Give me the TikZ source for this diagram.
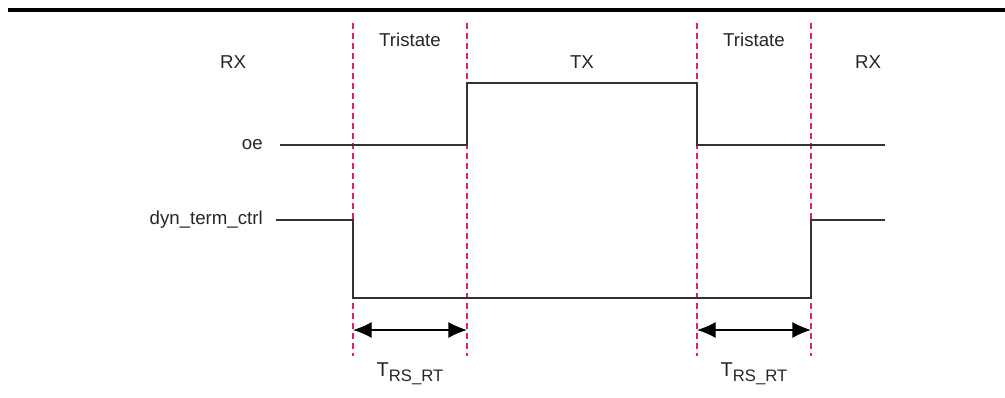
\documentclass[tikz,border=0pt]{standalone}
\usepackage{fontspec}
\setmainfont{Liberation Sans}
\usetikzlibrary{arrows.meta}
\definecolor{markred}{RGB}{226,36,90}
\newcommand{\trsrt}{{\fontsize{15}{16}\selectfont T}\raisebox{-0.5ex}{\fontsize{12.5}{13}\selectfont RS\_RT}}

\begin{document}
\begin{tikzpicture}[x=0.75pt, y=-0.75pt, font=\fontsize{14}{16}\selectfont,
        wave/.style = {draw, line width=1.1pt, black!80},
        tick line/.style = {draw, markred, line width=0.8pt, dash pattern=on 4.5pt off 3pt},
        gap arrow/.style = {draw, {Latex[length=14pt,width=12pt]}-{Latex[length=14pt,width=12pt]}, line width=1pt},
        lbl/.style = {inner sep=0pt, text=black!85}]
    \useasboundingbox (0,0) rectangle (1005,398);
    \draw[line width=2.6pt] (8,10) -- (1005,10);
    % switching instants
    \foreach \t/\x in {a/353, b/467, c/697, d/811} {
        \coordinate (\t top) at (\x,23);
        \coordinate (\t bot) at (\x,356);
        \path[tick line] (\t top) -- (\t bot);
    }
    % phase labels
    \node[lbl] (rx1) at (233,62) {RX};
    \node[lbl] (tri1) at (410,40) {Tristate};
    \node[lbl] (tx) at (582,62) {TX};
    \node[lbl] (tri2) at (754,40) {Tristate};
    \node[lbl] (rx2) at (868,62) {RX};
    % signals
    \node[lbl, anchor=east] (oe) at (263,145) {oe};
    \node[lbl, anchor=east] (dyn) at (263,220) {dyn\_term\_ctrl};
    \path[wave] ([xshift=13pt]oe.east) -- (467,145) -- (467,83) -- (697,83)
        -- (697,145) -- (885,145);
    \path[wave] ([xshift=10pt]dyn.east) -- (353,220) -- (353,298) -- (811,298)
        -- (811,220) -- (885,220);
    % delays
    \coordinate (g1l) at (353,330);
    \coordinate (g1r) at (467,330);
    \coordinate (g2l) at (697,330);
    \coordinate (g2r) at (811,330);
    \path[gap arrow] (g1l) -- (g1r);
    \path[gap arrow] (g2l) -- (g2r);
    \node[lbl] (t1) at (410,374) {\trsrt};
    \node[lbl] (t2) at (754,374) {\trsrt};
\end{tikzpicture}
\end{document}
